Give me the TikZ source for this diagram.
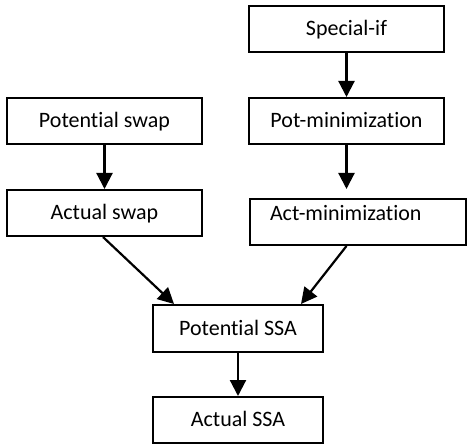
\documentclass[tikz,border=0pt]{standalone}
\usepackage{fontspec}
\setmainfont{Carlito}[Ligatures=NoCommon]
\usetikzlibrary{arrows.meta,calc}
\begin{document}
\begin{tikzpicture}[x=1pt,y=-1pt,
  box/.style={draw=black, line width=2pt, fill=white, minimum height=46pt,
    inner sep=0pt, font=\fontsize{22}{25}\selectfont, text height=17pt, text depth=4pt},
  arr/.style={line width=2.2pt, -{Triangle[length=16pt,width=16pt]}}]
\useasboundingbox (0,0) rectangle (467,444);
\node[box, minimum width=195pt] (si) at (346.5,29) {Special-if};
\node[box, minimum width=195pt] (pm) at (346.5,121) {Pot-minimization};
\node[box, minimum width=216pt, text width=176pt, align=left, inner xsep=20pt, text depth=20pt] (am) at (358,222) {Act-minimization};
\node[box, minimum width=195pt] (psw) at (104.5,121) {Potential swap};
\node[box, minimum width=195pt] (asw) at (104.5,213) {Actual swap};
\node[box, minimum width=170pt, minimum height=47pt] (ps) at (238,328.5) {Potential SSA};
\node[box, minimum width=170pt] (asa) at (238,420) {Actual SSA};
\draw[arr] (si.south) -- (pm.north);
\draw[arr, shorten >=9pt] (pm.south) -- (pm.south |- am.north);
\draw[arr] (psw.south) -- (asw.north);
\draw[arr] ($(asw.south)+(-1.5,0)$) -- ($(ps.north west)+(22,0)$);
\draw[arr] (pm.south |- am.south) -- ($(ps.north east)+(-23,0)$);
\draw[arr] (ps.south) -- (asa.north);
\end{tikzpicture}
\end{document}
